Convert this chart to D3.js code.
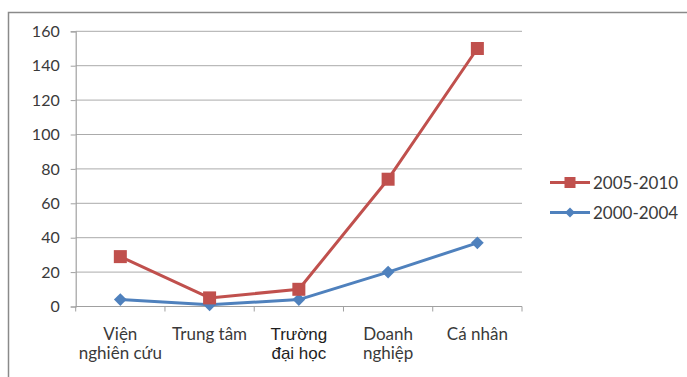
<!DOCTYPE html>
<html>
<head>
<meta charset="utf-8">
<script src="https://cdn.jsdelivr.net/npm/d3@7"></script>
<style>
  html, body { margin: 0; padding: 0; background: #fff; }
  svg { display: block; }
</style>
</head>
<body>
<svg id="chart" width="687" height="377"></svg>
<script>
// Categories (two-line labels) and series values
const categories = ["Viện nghiên cứu", "Trung tâm", "Trường đại học", "Doanh nghiệp", "Cá nhân"];
const categoryLines = [["Viện", "nghiên cứu"], ["Trung tâm"], ["Trường", "đại học"], ["Doanh", "nghiệp"], ["Cá nhân"]];
const series2005 = [29, 5, 10, 74, 150];
const series2000 = [4, 1, 4, 20, 37];
const yTicks = [0, 20, 40, 60, 80, 100, 120, 140, 160];
const seriesNames = ["2005-2010", "2000-2004"];

const svg = d3.select("#chart");
const W = 687, H = 377;
const plot = { left: 75.7, right: 522, top: 31.3, bottom: 306.5 };
const textColor = "#3a3a3a";
const font = "Lato, 'Open Sans', sans-serif";

// outer frame (left and top edges visible)
svg.append("path")
  .attr("d", `M8.5,${H} L8.5,12.5 L${W},12.5`)
  .attr("fill", "none").attr("stroke", "#8a8a8a").attr("stroke-width", 1.5);

const x = d3.scaleBand().domain(categories).range([plot.left, plot.right]).padding(0);
const y = d3.scaleLinear().domain([0, 160]).range([plot.bottom, plot.top]);

// horizontal gridlines
svg.append("g").selectAll("line").data(yTicks.filter(d => d > 0)).join("line")
  .attr("x1", plot.left).attr("x2", plot.right)
  .attr("y1", d => y(d)).attr("y2", d => y(d))
  .attr("stroke", "#ababab").attr("stroke-width", 1);

// y axis
const yAxis = svg.append("g").attr("transform", `translate(${plot.left},0)`)
  .call(d3.axisLeft(y).tickValues(yTicks).tickSize(5).tickPadding(11));
yAxis.select(".domain").attr("stroke", "#a0a0a0").attr("stroke-width", 1.2);
yAxis.selectAll(".tick line").attr("stroke", "#a0a0a0");
yAxis.selectAll(".tick text").attr("fill", textColor)
  .style("font-family", font).style("font-size", "16px");

// x axis line with ticks at category boundaries
svg.append("line").attr("x1", plot.left).attr("x2", plot.right)
  .attr("y1", plot.bottom).attr("y2", plot.bottom)
  .attr("stroke", "#a0a0a0").attr("stroke-width", 1.2);
const boundaries = categories.map(c => x(c)).concat([x(categories[categories.length - 1]) + x.bandwidth()]);
svg.append("g").selectAll("line").data(boundaries).join("line")
  .attr("x1", d => d).attr("x2", d => d)
  .attr("y1", plot.bottom).attr("y2", plot.bottom + 5)
  .attr("stroke", "#a0a0a0");

// category labels
const labels = svg.append("g");
categories.forEach((c, i) => {
  const cx = x(c) + x.bandwidth() / 2;
  const bold = i === 2;
  const t = labels.append("text")
    .attr("x", cx).attr("y", plot.bottom + 33)
    .attr("text-anchor", "middle")
    .attr("fill", bold ? "#1e1e1e" : textColor)
    .style("font-family", bold ? "'Liberation Sans', Arial, sans-serif" : font)
    .style("font-size", "17px");
  categoryLines[i].forEach((ln, j) => {
    t.append("tspan").attr("x", cx).attr("dy", j === 0 ? 0 : 19).text(ln);
  });
});

// series lines and markers
const line = d3.line().x((d, i) => x(categories[i]) + x.bandwidth() / 2).y(d => y(d));
const red = "#C0504D", blue = "#4F81BD";

svg.append("path").datum(series2000).attr("d", line)
  .attr("fill", "none").attr("stroke", blue).attr("stroke-width", 3).attr("stroke-linejoin", "round");
svg.append("path").datum(series2005).attr("d", line)
  .attr("fill", "none").attr("stroke", red).attr("stroke-width", 3).attr("stroke-linejoin", "round");

svg.append("g").selectAll("path").data(series2000).join("path")
  .attr("d", d3.symbol().type(d3.symbolSquare).size(81))
  .attr("transform", (d, i) => `translate(${x(categories[i]) + x.bandwidth() / 2},${y(d)}) rotate(45)`)
  .attr("fill", blue);

svg.append("g").selectAll("rect").data(series2005).join("rect")
  .attr("x", (d, i) => x(categories[i]) + x.bandwidth() / 2 - 6.5)
  .attr("y", d => y(d) - 6.5)
  .attr("width", 13).attr("height", 13)
  .attr("fill", red);

// legend
const legend = svg.append("g");
const legendItems = [
  { name: seriesNames[0], color: red, shape: "square", y: 182.5 },
  { name: seriesNames[1], color: blue, shape: "diamond", y: 212.5 }
];
legendItems.forEach(it => {
  legend.append("line").attr("x1", 550).attr("x2", 590)
    .attr("y1", it.y).attr("y2", it.y)
    .attr("stroke", it.color).attr("stroke-width", 3);
  if (it.shape === "square") {
    legend.append("rect").attr("x", 564.5).attr("y", it.y - 5.5).attr("width", 11).attr("height", 11).attr("fill", it.color);
  } else {
    legend.append("path").attr("d", d3.symbol().type(d3.symbolSquare).size(50))
      .attr("transform", `translate(570,${it.y}) rotate(45)`).attr("fill", it.color);
  }
  legend.append("text").attr("x", 593).attr("y", it.y + 6)
    .attr("fill", textColor)
    .style("font-family", font).style("font-size", "17px")
    .text(it.name);
});
</script>
</body>
</html>
